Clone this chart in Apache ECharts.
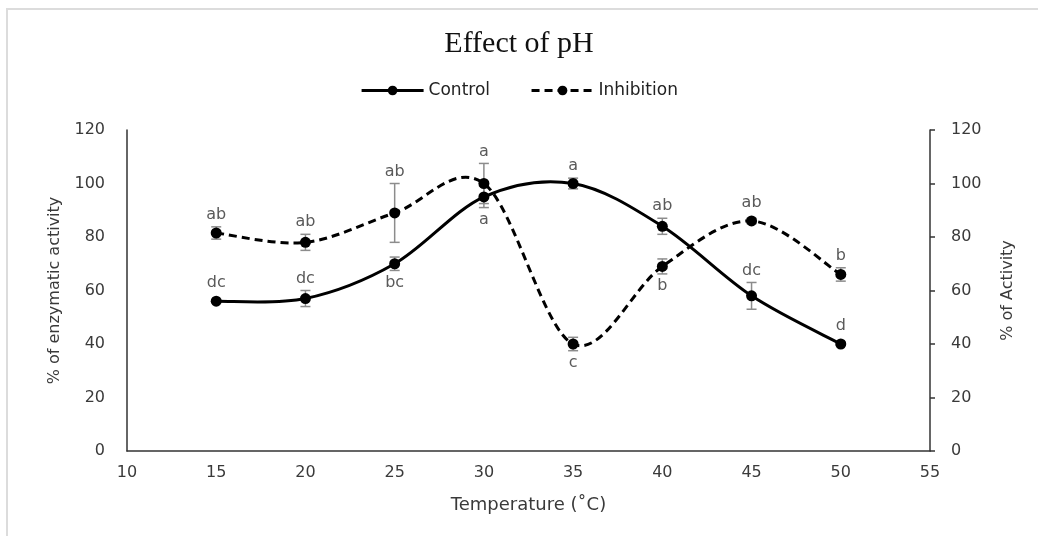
<!DOCTYPE html>
<html>
<head>
<meta charset="utf-8">
<script src="https://cdn.jsdelivr.net/npm/echarts@6/dist/echarts.min.js"></script>
<style>
  html, body { margin: 0; padding: 0; background: #fff; }
  #main { width: 1038px; height: 536px; }
</style>
</head>
<body>
<div id="main"></div>
<script>
// temperatures (x axis)
const temps = [15, 20, 25, 30, 35, 40, 45, 50]

// Control
const control = [56, 57, 70, 95, 100, 84, 58, 40]
const controlErr = [0.5, 3, 2.5, 4, 2, 3, 5, 0.5]
const controlLabels = ['dc', 'dc', 'bc', 'a', 'a', 'ab', 'dc', 'd']
const controlPos = ['top', 'top', 'bottom', 'bottom', 'top', 'top', 'top', 'top']

// Inhibition
const inhibition = [81.5, 78, 89, 100, 40, 69, 86, 66]
const inhibitionErr = [2.3, 3, 11, 7.5, 2.5, 2.8, 1, 2.5]
const inhibitionLabels = ['ab', 'ab', 'ab', 'a', 'c', 'b', 'ab', 'b']
const inhibitionPos = ['top', 'top', 'top', 'top', 'bottom', 'bottom', 'top', 'top']

const axisFont = 'DejaVu Sans'
const textColor = '#3a3a3a'
const dash = [8, 5]

function pairs(ys) {
    return temps.map((t, i) => [t, ys[i]])
}

// draws the gray error bar and the letter above / below it
function errRenderer(errs, labels, pos) {
    return function (params, api) {
        const i = params.dataIndex
        const x = api.value(0)
        const y = api.value(1)
        const e = errs[i]
        const p = api.coord([x, y])
        const top = api.coord([x, y + e])
        const bot = api.coord([x, y - e])
        const cap = 5
        const style = { stroke: '#8c8c8c', lineWidth: 1.5 }
        const children = [
            { type: 'line', shape: { x1: p[0], y1: top[1], x2: p[0], y2: bot[1] }, style: style },
            { type: 'line', shape: { x1: p[0] - cap, y1: top[1], x2: p[0] + cap, y2: top[1] }, style: style },
            { type: 'line', shape: { x1: p[0] - cap, y1: bot[1], x2: p[0] + cap, y2: bot[1] }, style: style }
        ]
        let ty, va
        if (pos[i] == 'top') {
            ty = Math.min(top[1], p[1] - 6) - 4
            va = 'bottom'
        } else {
            ty = Math.max(bot[1], p[1] + 6) + 4
            va = 'top'
        }
        children.push({
            type: 'text',
            style: {
                x: p[0], y: ty, text: labels[i],
                align: 'center', verticalAlign: va,
                fill: '#5a5a5a', font: '16px "DejaVu Sans"'
            }
        })
        return { type: 'group', children: children }
    }
}

// Excel style smoothed line (catmull-rom, no clamping), drawn once on item 0
function curveRenderer(ys, lineDash) {
    return function (params, api) {
        if (params.dataIndex != 0) return
        const pts = temps.map((t, i) => api.coord([t, ys[i]]))
        const n = pts.length
        let d = 'M' + pts[0][0] + ' ' + pts[0][1]
        for (let i = 0; i < n - 1; i++) {
            const p0 = pts[Math.max(i - 1, 0)]
            const p1 = pts[i]
            const p2 = pts[i + 1]
            const p3 = pts[Math.min(i + 2, n - 1)]
            const c1x = p1[0] + (p2[0] - p0[0]) / 6
            const c1y = p1[1] + (p2[1] - p0[1]) / 6
            const c2x = p2[0] - (p3[0] - p1[0]) / 6
            const c2y = p2[1] - (p3[1] - p1[1]) / 6
            d += ' C' + c1x + ' ' + c1y + ' ' + c2x + ' ' + c2y + ' ' + p2[0] + ' ' + p2[1]
        }
        return {
            type: 'path',
            shape: { pathData: d },
            style: { fill: 'none', stroke: '#000', lineWidth: 3, lineDash: lineDash }
        }
    }
}

var myChart = echarts.init(document.getElementById('main'))
let option = {
    animation: false,
    backgroundColor: '#fff',
    graphic: [{
        type: 'rect',
        shape: { x: 7, y: 9, width: 1060, height: 560 },
        style: { fill: 'none', stroke: '#dcdcdc', lineWidth: 2 },
        silent: true
    }],
    title: {
        text: 'Effect of pH',
        left: 'center',
        top: 24,
        textStyle: { fontFamily: 'Liberation Serif', fontWeight: 'normal', fontSize: 30, color: '#111' }
    },
    legend: {
        top: 77,
        left: 'center',
        itemWidth: 62,
        itemHeight: 12,
        itemGap: 40,
        textStyle: { fontFamily: axisFont, fontSize: 17, color: '#222' },
        data: [
            { name: 'Control', lineStyle: { opacity: 1, width: 3, color: '#000', type: 'solid' } },
            { name: 'Inhibition', lineStyle: { opacity: 1, width: 3, color: '#000', type: dash } }
        ]
    },
    grid: { left: 127, right: 108, top: 130, bottom: 85 },
    xAxis: {
        type: 'value',
        min: 10, max: 55, interval: 5,
        name: 'Temperature (˚C)',
        nameLocation: 'middle',
        nameGap: 45,
        nameTextStyle: { fontFamily: axisFont, fontSize: 18, color: textColor },
        axisLine: { lineStyle: { color: '#333', width: 1.5 } },
        axisTick: { show: false },
        splitLine: { show: false },
        axisLabel: { fontFamily: axisFont, fontSize: 16, color: textColor, margin: 14 }
    },
    yAxis: [
        {
            type: 'value',
            min: 0, max: 120, interval: 20,
            name: '% of enzymatic activity',
            nameLocation: 'middle',
            nameGap: 64,
            nameTextStyle: { fontFamily: axisFont, fontSize: 16, color: textColor },
            axisLine: { show: true, lineStyle: { color: '#333', width: 1.5 } },
            axisTick: { show: false },
            splitLine: { show: false },
            axisLabel: { fontFamily: axisFont, fontSize: 16, color: textColor, margin: 22 }
        },
        {
            type: 'value',
            position: 'right',
            min: 0, max: 120, interval: 20,
            name: '% of Activity',
            nameLocation: 'middle',
            nameRotate: 90,
            nameGap: 70,
            nameTextStyle: { fontFamily: axisFont, fontSize: 16, color: textColor },
            axisLine: { show: true, lineStyle: { color: '#333', width: 1.5 } },
            axisTick: { show: true, length: 5, lineStyle: { color: '#333', width: 1.5 } },
            splitLine: { show: false },
            axisLabel: { fontFamily: axisFont, fontSize: 16, color: textColor, margin: 21 }
        }
    ],
    series: [
        {
            type: 'custom',
            name: 'controlErr',
            z: 1,
            renderItem: errRenderer(controlErr, controlLabels, controlPos),
            data: pairs(control)
        },
        {
            type: 'custom',
            name: 'inhibitionErr',
            z: 1,
            renderItem: errRenderer(inhibitionErr, inhibitionLabels, inhibitionPos),
            data: pairs(inhibition)
        },
        {
            type: 'custom',
            name: 'controlCurve',
            z: 2,
            renderItem: curveRenderer(control, null),
            data: pairs(control)
        },
        {
            type: 'custom',
            name: 'inhibitionCurve',
            z: 2,
            renderItem: curveRenderer(inhibition, dash),
            data: pairs(inhibition)
        },
        {
            name: 'Control',
            type: 'line',
            z: 3,
            symbol: 'circle',
            symbolSize: 11,
            itemStyle: { color: '#000' },
            lineStyle: { color: '#000', width: 3, opacity: 0 },
            data: pairs(control)
        },
        {
            name: 'Inhibition',
            type: 'line',
            z: 3,
            symbol: 'circle',
            symbolSize: 11,
            itemStyle: { color: '#000' },
            lineStyle: { color: '#000', width: 3, type: dash, opacity: 0 },
            data: pairs(inhibition)
        }
    ]
}
myChart.setOption(option)
</script>
</body>
</html>
